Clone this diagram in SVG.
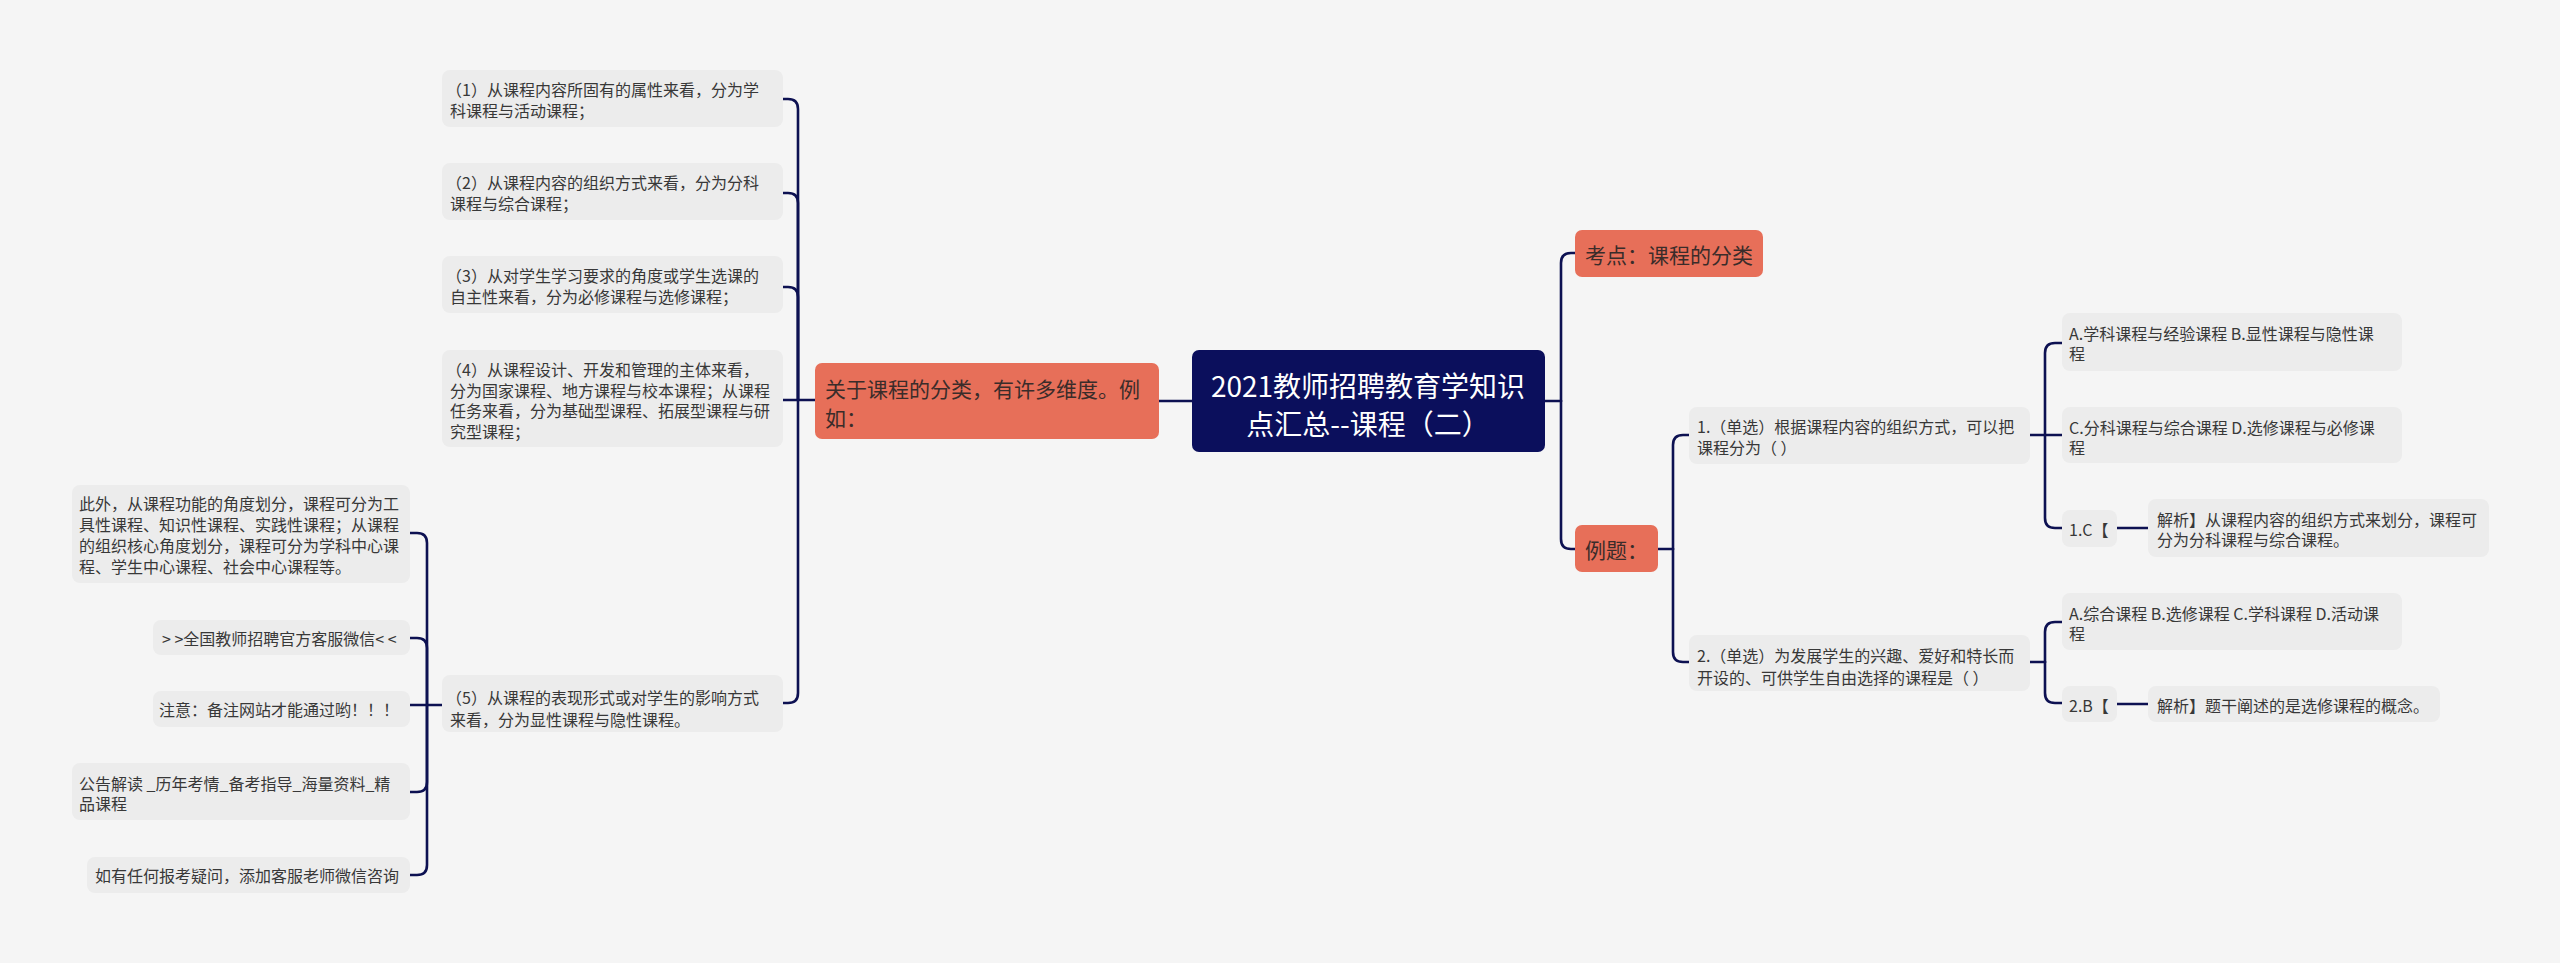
<svg xmlns="http://www.w3.org/2000/svg" width="2560" height="963" viewBox="0 0 2560 963">
<style>
text{font-family:"Noto Sans CJK SC","Noto Sans",sans-serif;dominant-baseline:central}
.box{fill:#ececec}
.org{fill:#e76f59}
.t{font-size:16px;fill:#383838}
.to{font-size:21px;fill:#3a2c2a}
.tr{font-size:28px;fill:#ffffff;text-anchor:middle}
.ln{fill:none;stroke:#0d1152;stroke-width:2.6;stroke-linecap:round}
</style>
<rect x="0" y="0" width="2560" height="963" fill="#f5f5f5"/>
<g id="connectors">
<path class="ln" d="M1192 401 H1159"/>
<path class="ln" d="M815 400 H783"/>
<path class="ln" d="M798 400 V109 Q798 99 788 99 H783"/>
<path class="ln" d="M798 400 V203 Q798 193 788 193 H783"/>
<path class="ln" d="M798 400 V297 Q798 287 788 287 H783"/>
<path class="ln" d="M798 400 V693 Q798 703 788 703 H783"/>
<path class="ln" d="M442 705 H410"/>
<path class="ln" d="M427 705 V543 Q427 533 417 533 H410"/>
<path class="ln" d="M427 705 V648 Q427 638 417 638 H410"/>
<path class="ln" d="M427 705 V782 Q427 792 417 792 H410"/>
<path class="ln" d="M427 705 V865 Q427 875 417 875 H410"/>
<path class="ln" d="M1545 401 H1561"/>
<path class="ln" d="M1561 401 V263 Q1561 253 1571 253 H1575"/>
<path class="ln" d="M1561 401 V539 Q1561 549 1571 549 H1575"/>
<path class="ln" d="M1658 549 H1673"/>
<path class="ln" d="M1673 549 V445 Q1673 435 1683 435 H1689"/>
<path class="ln" d="M1673 549 V652 Q1673 662 1683 662 H1689"/>
<path class="ln" d="M2030 435 H2062"/>
<path class="ln" d="M2045 435 V353 Q2045 343 2055 343 H2062"/>
<path class="ln" d="M2045 435 V518 Q2045 528 2055 528 H2062"/>
<path class="ln" d="M2117 528 H2148"/>
<path class="ln" d="M2030 662 H2045"/>
<path class="ln" d="M2045 662 V632 Q2045 622 2055 622 H2062"/>
<path class="ln" d="M2045 662 V693 Q2045 703 2055 703 H2062"/>
<path class="ln" d="M2117 704 H2148"/>
</g>
<g id="root">
<rect x="1192" y="350" width="353" height="102" rx="7" fill="#0b0f5c"/>
<text class="tr" x="1368" y="385">2021教师招聘教育学知识</text>
<text class="tr" x="1368" y="423">点汇总--课程（二）</text>
</g>
<g id="left-main">
<rect class="org" x="815" y="363" width="344" height="76" rx="7"/>
<text class="to" x="825" y="388">关于课程的分类，有许多维度。例</text>
<text class="to" x="825" y="417">如：</text>
</g>
<g id="item1">
<rect class="box" x="442" y="70" width="341" height="57" rx="8"/>
<text class="t" x="446" y="89">（1）从课程内容所固有的属性来看，分为学</text>
<text class="t" x="450" y="110">科课程与活动课程；</text>
</g>
<g id="item2">
<rect class="box" x="442" y="163" width="341" height="57" rx="8"/>
<text class="t" x="446" y="182">（2）从课程内容的组织方式来看，分为分科</text>
<text class="t" x="450" y="203">课程与综合课程；</text>
</g>
<g id="item3">
<rect class="box" x="442" y="256" width="341" height="57" rx="8"/>
<text class="t" x="446" y="275">（3）从对学生学习要求的角度或学生选课的</text>
<text class="t" x="450" y="296">自主性来看，分为必修课程与选修课程；</text>
</g>
<g id="item4">
<rect class="box" x="442" y="350" width="341" height="97" rx="8"/>
<text class="t" x="446" y="369">（4）从课程设计、开发和管理的主体来看，</text>
<text class="t" x="450" y="390">分为国家课程、地方课程与校本课程；从课程</text>
<text class="t" x="450" y="410">任务来看，分为基础型课程、拓展型课程与研</text>
<text class="t" x="450" y="431">究型课程；</text>
</g>
<g id="item5">
<rect class="box" x="442" y="675" width="341" height="57" rx="8"/>
<text class="t" x="446" y="697">（5）从课程的表现形式或对学生的影响方式</text>
<text class="t" x="450" y="719">来看，分为显性课程与隐性课程。</text>
</g>
<g id="extra1">
<rect class="box" x="72" y="485" width="338" height="98" rx="8"/>
<text class="t" x="79" y="503">此外，从课程功能的角度划分，课程可分为工</text>
<text class="t" x="79" y="524">具性课程、知识性课程、实践性课程；从课程</text>
<text class="t" x="79" y="545">的组织核心角度划分，课程可分为学科中心课</text>
<text class="t" x="79" y="566">程、学生中心课程、社会中心课程等。</text>
</g>
<g id="extra2">
<rect class="box" x="153" y="620" width="257" height="35" rx="8"/>
<text class="t" x="162" y="638">&gt; &gt;全国教师招聘官方客服微信&lt; &lt;</text>
</g>
<g id="extra3">
<rect class="box" x="153" y="691" width="257" height="36" rx="8"/>
<text class="t" x="159" y="709">注意：备注网站才能通过哟！！！</text>
</g>
<g id="extra4">
<rect class="box" x="72" y="763" width="338" height="57" rx="8"/>
<text class="t" x="79" y="783">公告解读 _历年考情_备考指导_海量资料_精</text>
<text class="t" x="79" y="803">品课程</text>
</g>
<g id="extra5">
<rect class="box" x="87" y="857" width="323" height="36" rx="8"/>
<text class="t" x="95" y="875">如有任何报考疑问，添加客服老师微信咨询</text>
</g>
<g id="kaodian">
<rect class="org" x="1575" y="230" width="188" height="47" rx="7"/>
<text class="to" x="1585" y="254">考点：课程的分类</text>
</g>
<g id="liti">
<rect class="org" x="1575" y="525" width="83" height="47" rx="7"/>
<text class="to" x="1585" y="549">例题：</text>
</g>
<g id="q1">
<rect class="box" x="1689" y="407" width="341" height="57" rx="8"/>
<text class="t" x="1697" y="426">1.（单选）根据课程内容的组织方式，可以把</text>
<text class="t" x="1697" y="447">课程分为（ ）</text>
</g>
<g id="q1a">
<rect class="box" x="2062" y="313" width="340" height="58" rx="8"/>
<text class="t" x="2069" y="333">A.学科课程与经验课程 B.显性课程与隐性课</text>
<text class="t" x="2069" y="353">程</text>
</g>
<g id="q1c">
<rect class="box" x="2062" y="407" width="340" height="56" rx="8"/>
<text class="t" x="2069" y="427">C.分科课程与综合课程 D.选修课程与必修课</text>
<text class="t" x="2069" y="447">程</text>
</g>
<g id="q1ans">
<rect class="box" x="2062" y="510" width="55" height="37" rx="8"/>
<text class="t" x="2069" y="529">1.C【</text>
</g>
<g id="q1exp">
<rect class="box" x="2148" y="499" width="341" height="58" rx="8"/>
<text class="t" x="2157" y="519">解析】从课程内容的组织方式来划分，课程可</text>
<text class="t" x="2157" y="539">分为分科课程与综合课程。</text>
</g>
<g id="q2">
<rect class="box" x="1689" y="635" width="341" height="56" rx="8"/>
<text class="t" x="1697" y="655">2.（单选）为发展学生的兴趣、爱好和特长而</text>
<text class="t" x="1697" y="677">开设的、可供学生自由选择的课程是（ ）</text>
</g>
<g id="q2a">
<rect class="box" x="2062" y="593" width="340" height="57" rx="8"/>
<text class="t" x="2069" y="613">A.综合课程 B.选修课程 C.学科课程 D.活动课</text>
<text class="t" x="2069" y="633">程</text>
</g>
<g id="q2ans">
<rect class="box" x="2062" y="686" width="55" height="36" rx="8"/>
<text class="t" x="2069" y="705">2.B【</text>
</g>
<g id="q2exp">
<rect class="box" x="2148" y="686" width="292" height="36" rx="8"/>
<text class="t" x="2157" y="705">解析】题干阐述的是选修课程的概念。</text>
</g>
</svg>
